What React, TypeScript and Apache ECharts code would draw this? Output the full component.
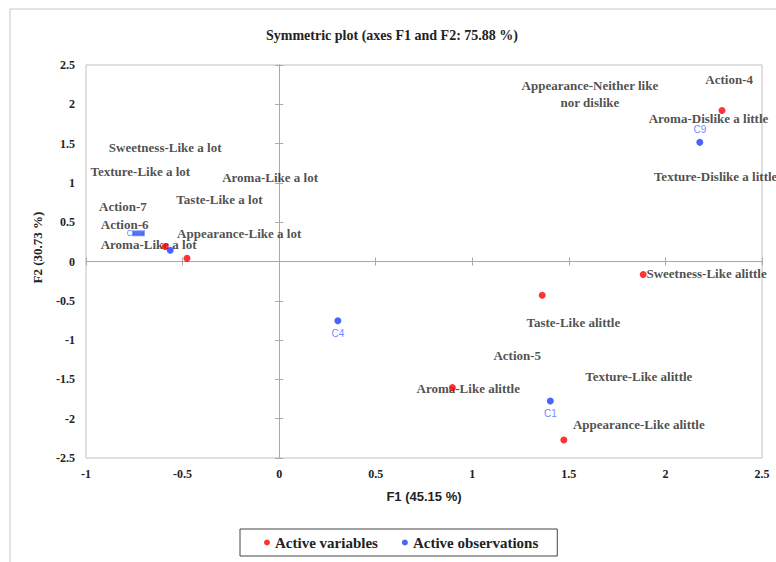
import React, { useEffect, useRef } from "react";
import * as echarts from "echarts";

const TITLE = "Symmetric plot (axes F1 and F2: 75.88 %)";
const X_NAME = "F1 (45.15 %)";
const Y_NAME = "F2 (30.73 %)";

// Active variables (red points)
const varX = [-0.59, -0.477, 2.293, 1.885, 1.362, 0.897, 1.474];
const varY = [0.19, 0.04, 1.92, -0.165, -0.43, -1.605, -2.27];

// Active observations (blue points)
const obsNames = ["", "C9", "C4", "C1"];
const obsX = [-0.564, 2.178, 0.304, 1.404];
const obsY = [0.144, 1.516, -0.754, -1.775];

// Variable labels (as placed in the original plot)
const varLabelNames = [
  "Sweetness-Like a lot",
  "Texture-Like a lot",
  "Aroma-Like a lot",
  "Taste-Like a lot",
  "Action-7",
  "Action-6",
  "Appearance-Like a lot",
  "Aroma-Like a lot",
  "Appearance-Neither like\nnor dislike",
  "Action-4",
  "Aroma-Dislike a little",
  "Texture-Dislike a little",
  "Sweetness-Like alittle",
  "Taste-Like alittle",
  "Action-5",
  "Texture-Like alittle",
  "Aroma-Like alittle",
  "Appearance-Like alittle",
];
const varLabelX = [-0.59, -0.719, -0.047, -0.309, -0.809, -0.8, -0.207, -0.676, 1.609, 2.33, 2.223, 2.26, 2.213, 1.523, 1.233, 1.862, 0.979, 1.862];
const varLabelY = [1.445, 1.14, 1.063, 0.788, 0.703, 0.47, 0.352, 0.216, 2.135, 2.31, 1.817, 1.084, -0.152, -0.78, -1.195, -1.465, -1.618, -2.075];

// Overlapping observation labels cluster
const clusterX = [-0.745];
const clusterY = [0.358];

const X_MIN = -1, X_MAX = 2.5, Y_MIN = -2.5, Y_MAX = 2.5, STEP = 0.5;

const serif = "Liberation Serif";
const sans = "Liberation Sans";
const narrow = "Liberation Sans Narrow, Liberation Sans";

export default function App() {
  const ref = useRef<HTMLDivElement>(null);
  useEffect(() => {
    if (!ref.current) return;
    const chart = echarts.init(ref.current, null, { renderer: "svg" });

    const baseX = { type: "value", min: X_MIN, max: X_MAX, interval: STEP, splitLine: { show: false } };
    const baseY = { type: "value", min: Y_MIN, max: Y_MAX, interval: STEP, splitLine: { show: false } };
    const tickLabel = { fontFamily: serif, fontWeight: "bold", fontSize: 12, color: "#222" };

    chart.setOption({
      animation: false,
      backgroundColor: "#fff",
      title: {
        text: TITLE,
        left: 261,
        top: 23,
        textStyle: { fontFamily: serif, fontWeight: "bold", fontSize: 14, color: "#222" },
      },
      graphic: [
        {
          type: "rect",
          shape: { x: 10, y: 9, width: 900, height: 700 },
          style: { fill: "none", stroke: "#c8c8c8", lineWidth: 1 },
          silent: true,
          z: -1,
        },
      ],
      grid: {
        left: 86,
        right: 14,
        top: 65,
        bottom: 104,
        show: true,
        borderColor: "#c0c0c0",
        borderWidth: 1,
        backgroundColor: "transparent",
      },
      legend: {
        data: ["Active variables", "Active observations"],
        left: 240,
        top: 529,
        orient: "horizontal",
        borderColor: "#444",
        borderWidth: 1,
        padding: [6, 19, 6, 24],
        itemWidth: 6,
        itemHeight: 6,
        itemGap: 24,
        icon: "circle",
        textStyle: { fontFamily: serif, fontWeight: "bold", fontSize: 15, color: "#222" },
      },
      xAxis: [
        {
          ...baseX,
          position: "bottom",
          axisLine: { show: false, onZero: false },
          axisTick: { show: false },
          axisLabel: { ...tickLabel, margin: 10 },
          name: X_NAME,
          nameLocation: "middle",
          nameGap: 32,
          nameTextStyle: { fontFamily: narrow, fontWeight: "bold", fontSize: 13, color: "#222" },
        },
        {
          ...baseX,
          position: "bottom",
          axisLine: { show: true, onZero: true, onZeroAxisIndex: 0, lineStyle: { color: "#a8a8a8", width: 1 } },
          axisTick: { show: true, inside: true, length: 4, lineStyle: { color: "#a8a8a8" } },
          axisLabel: { show: false },
        },
        {
          ...baseX,
          position: "bottom",
          axisLine: { show: false, onZero: true, onZeroAxisIndex: 0 },
          axisTick: { show: true, inside: false, length: 4, lineStyle: { color: "#a8a8a8" } },
          axisLabel: { show: false },
        },
      ],
      yAxis: [
        {
          ...baseY,
          position: "left",
          axisLine: { show: false, onZero: false },
          axisTick: { show: false },
          axisLabel: { ...tickLabel, margin: 11 },
          name: Y_NAME,
          nameLocation: "middle",
          nameGap: 42,
          nameTextStyle: { fontFamily: serif, fontWeight: "bold", fontSize: 13, color: "#222", padding: [0, 0, 0, 28] },
        },
        {
          ...baseY,
          position: "left",
          axisLine: { show: true, onZero: true, onZeroAxisIndex: 0, lineStyle: { color: "#a8a8a8", width: 1 } },
          axisTick: { show: true, inside: true, length: 4, lineStyle: { color: "#a8a8a8" } },
          axisLabel: { show: false },
        },
        {
          ...baseY,
          position: "left",
          axisLine: { show: false, onZero: true, onZeroAxisIndex: 0 },
          axisTick: { show: true, inside: false, length: 4, lineStyle: { color: "#a8a8a8" } },
          axisLabel: { show: false },
        },
      ],
      series: [
        {
          name: "Variable labels",
          type: "scatter",
          symbolSize: 0,
          silent: true,
          data: varLabelNames.map((n, i) => ({ value: [varLabelX[i], varLabelY[i]], name: n })),
          label: {
            show: true,
            position: "inside",
            formatter: (p: any) => p.name,
            fontFamily: serif,
            fontWeight: "bold",
            fontSize: 13,
            lineHeight: 17,
            align: "center",
            verticalAlign: "middle",
            color: "#222",
          },
          z: 1,
        },
        {
          name: "Cluster labels",
          type: "scatter",
          symbolSize: 0,
          silent: true,
          data: clusterX.map((x, i) => [x, clusterY[i]]),
          label: {
            show: true,
            position: "inside",
            formatter: "{c|C}{b|}",
            rich: {
              c: { fontFamily: sans, fontSize: 9, color: "#4466ff" },
              b: { width: 11, height: 4, backgroundColor: "#3355ee", borderColor: "#6688ff", borderWidth: 1 },
            },
          },
          z: 2,
        },
        {
          name: "Active variables",
          type: "scatter",
          symbol: "circle",
          symbolSize: 7,
          itemStyle: { color: "#ff0000" },
          data: varX.map((x, i) => [x, varY[i]]),
          z: 3,
        },
        {
          name: "Active observations",
          type: "scatter",
          symbol: "circle",
          symbolSize: 7,
          itemStyle: { color: "#1a3cff" },
          data: obsX.map((x, i) => ({
            value: [x, obsY[i]],
            name: obsNames[i],
            label: { position: obsNames[i] === "C9" ? "top" : "bottom" },
          })),
          label: {
            show: true,
            formatter: (p: any) => p.name,
            distance: 4,
            fontFamily: sans,
            fontSize: 10,
            color: "#4466ff",
          },
          z: 4,
        },
      ],
    });
    return () => chart.dispose();
  }, []);
  return <div ref={ref} style={{ width: 776, height: 562, position: "absolute", left: 0, top: 0 }} />;
}
